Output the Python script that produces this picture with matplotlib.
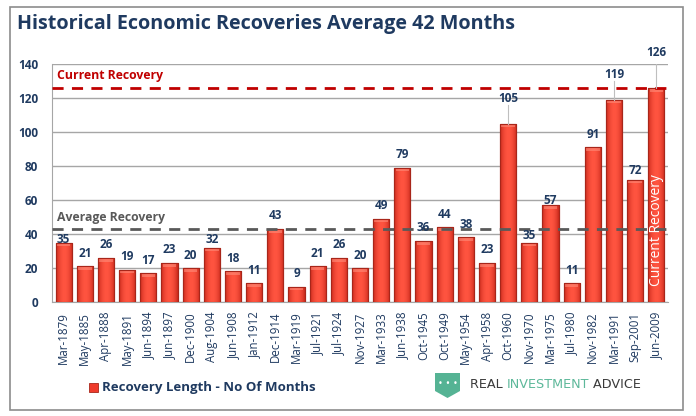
import matplotlib.pyplot as plt
import matplotlib.patches as mpatches
import numpy as np

# data
dates = ['Mar-1879', 'May-1885', 'Apr-1888', 'May-1891', 'Jun-1894', 'Jun-1897',
         'Dec-1900', 'Aug-1904', 'Jun-1908', 'Jan-1912', 'Dec-1914', 'Mar-1919',
         'Jul-1921', 'Jul-1924', 'Nov-1927', 'Mar-1933', 'Jun-1938', 'Oct-1945',
         'Oct-1949', 'May-1954', 'Apr-1958', 'Oct-1960', 'Nov-1970', 'Mar-1975',
         'Jul-1980', 'Nov-1982', 'Mar-1991', 'Sep-2001', 'Jun-2009']
months = [35, 21, 26, 19, 17, 23, 20, 32, 18, 11, 43, 9, 21, 26, 20, 49, 79, 36,
          44, 38, 23, 105, 35, 57, 11, 91, 119, 72, 126]
average_recovery = 43
current_recovery = 126

navy = '#1F3A60'
plt.rcParams['font.family'] = ['Open Sans', 'DejaVu Sans']

fig = plt.figure(figsize=(6.96, 4.16), dpi=100)
fig.patch.set_facecolor('white')

# outer frame
fig.patches.append(mpatches.Rectangle((10 / 696, 1 - 410 / 416), 673 / 696, 403 / 416,
                                      transform=fig.transFigure, fill=False,
                                      edgecolor='#8C8C8C', linewidth=1.2))

fig.text(17 / 696, 1 - 24 / 416, 'Historical Economic Recoveries Average 42 Months',
         fontsize=14.2, fontweight='bold', color=navy, va='center', ha='left')

ax = fig.add_axes([52 / 696, 1 - 302 / 416, 616 / 696, 238 / 416])
x = np.arange(len(dates))
bars = ax.bar(x, months, width=0.76, color='#EF3B2C', edgecolor='#A8261A', linewidth=0.8,
              zorder=3)

# horizontal shading on the bars (darker sides, lighter middle)
shade = np.linspace(-1, 1, 64)
grad = 1 - np.abs(shade) ** 2
cmap = plt.matplotlib.colors.LinearSegmentedColormap.from_list('bar', ['#C92A1C', '#FF5440'])
for b in bars:
    x0, w, h = b.get_x(), b.get_width(), b.get_height()
    im = ax.imshow(grad[np.newaxis, :], extent=[x0, x0 + w, 0, h], aspect='auto',
                   cmap=cmap, zorder=3.1, interpolation='bilinear')
    im.set_clip_path(b)
    # lighter top cap
    ax.add_patch(mpatches.Rectangle((x0 + w * 0.08, h - 2.2), w * 0.84, 1.8,
                                    facecolor='#FF8C7A', edgecolor='none', alpha=0.6,
                                    zorder=3.2))
    ax.add_patch(mpatches.Rectangle((x0, 0), w, h, fill=False, edgecolor='#A8261A',
                                    linewidth=0.8, zorder=3.3))

ax.set_xlim(-0.55, len(dates) - 0.45)
ax.set_ylim(0, 140)
ax.set_yticks(range(0, 141, 20))
ax.yaxis.grid(True, color='#A6A6A6', linewidth=1, zorder=0)
ax.tick_params(axis='y', length=0, labelsize=8.5, labelcolor=navy, pad=10)
for lbl in ax.get_yticklabels():
    lbl.set_fontweight('bold')
ax.set_xticks(x)
ax.set_xticklabels(dates, rotation=90, fontsize=8.3, color=navy)
ax.tick_params(axis='x', length=0, pad=7)
for s in ['top', 'right']:
    ax.spines[s].set_visible(False)
ax.spines['left'].set_color('#A6A6A6')
ax.spines['bottom'].set_color('#A6A6A6')

# reference lines
ax.axhline(current_recovery, color='#C00000', linestyle=(0, (4, 3)), linewidth=2, zorder=4)
ax.axhline(average_recovery, color='#595959', linestyle=(0, (4, 3)), linewidth=2, zorder=4)
ax.text(-0.32, 133.5, 'Current Recovery', color='#C00000', fontsize=8.8, fontweight='bold',
        va='center', ha='left')
ax.text(-0.32, 49.6, 'Average Recovery', color='#595959', fontsize=8.8, fontweight='bold',
        va='center', ha='left')

# data labels (offset in data units above the bar top)
offsets = {0: 2, 7: 5, 21: 15, 22: 4, 23: 3, 26: 15, 27: 5.3, 28: 20.6}
leaders = (21, 26, 28)
for i, v in enumerate(months):
    dy = offsets.get(i, 7.6)
    ax.text(i, v + dy, str(v), ha='center', va='center', fontsize=8.5, fontweight='bold',
            color=navy, zorder=5)
    if i in leaders:
        ax.plot([i, i], [v, v + dy - 4], color='#BFBFBF', linewidth=0.8, zorder=5)

ax.text(len(dates) - 1, 42.6, 'Current Recovery', rotation=90, color='white', fontsize=10,
        ha='center', va='center', zorder=6)

# legend
fig.patches.append(mpatches.Rectangle((89 / 696, 1 - 392 / 416), 9 / 696, 9 / 416,
                                      transform=fig.transFigure, facecolor='#EF3B2C',
                                      edgecolor='#A8261A', linewidth=0.6))
fig.text(102 / 696, 1 - 388 / 416, 'Recovery Length - No Of Months', fontsize=9.5,
         fontweight='bold', color=navy, va='center', ha='left')

# logo
shield = mpatches.Polygon([(435 / 696, 1 - 373 / 416), (460 / 696, 1 - 373 / 416),
                           (460 / 696, 1 - 391 / 416), (447.5 / 696, 1 - 398 / 416),
                           (435 / 696, 1 - 391 / 416)], closed=True,
                          transform=fig.transFigure, facecolor='#55B394', edgecolor='none')
fig.patches.append(shield)
fig.text(447.5 / 696, 1 - 384 / 416, '• • •', color='white', fontsize=6, ha='center',
         va='center', family='DejaVu Sans')
t1 = fig.text(470 / 696, 1 - 385 / 416, 'REAL ', fontsize=9.2, color='#3A3A3A',
              va='center', ha='left', family='DejaVu Sans')
fig.canvas.draw()
bb = t1.get_window_extent()
t2 = fig.text(bb.x1 / 696, 1 - 385 / 416, 'INVESTMENT', fontsize=9.2, color='#5DB89A',
              va='center', ha='left', family='DejaVu Sans')
bb = t2.get_window_extent()
fig.text(bb.x1 / 696, 1 - 385 / 416, ' ADVICE', fontsize=9.2, color='#3A3A3A',
         va='center', ha='left', family='DejaVu Sans')

fig.savefig('out.png', dpi=100)
